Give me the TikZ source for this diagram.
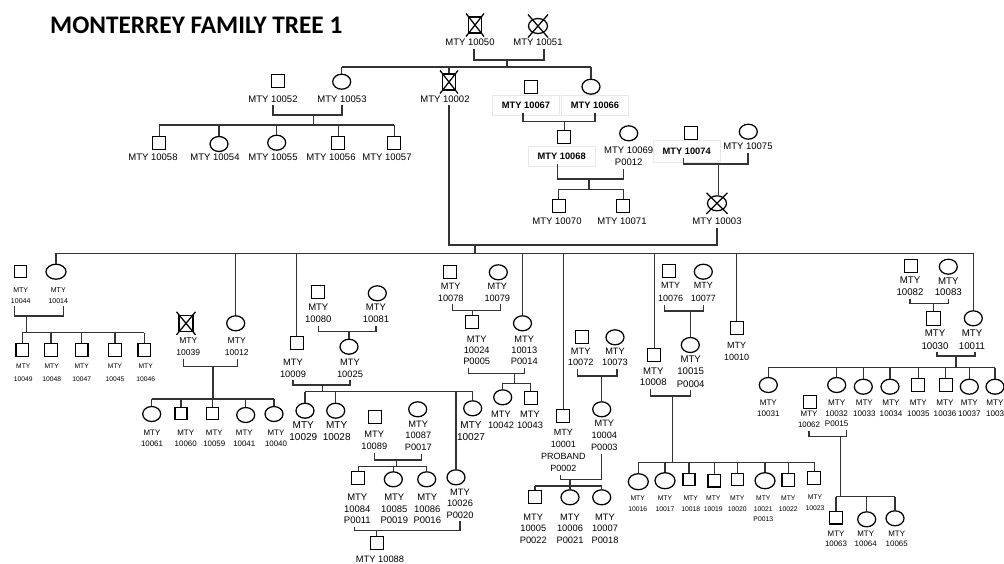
\documentclass[tikz,border=0pt]{standalone}
\usepackage{fontspec}
\setmainfont{Liberation Sans}
\newfontfamily\titlefont{Carlito}
\usetikzlibrary{shapes.geometric}
\newcommand\fs[2]{\fontsize{#1}{#2}\selectfont}
\newcommand\deadmark[3]{\draw[sym] ([shift={(-#2pt,-#3pt)}]#1.center) -- ([shift={(#2pt,#3pt)}]#1.center) ([shift={(-#2pt,#3pt)}]#1.center) -- ([shift={(#2pt,-#3pt)}]#1.center);}
\tikzset{
  sym/.style={draw=black, line width=1.25pt},
  sq/.style={sym, rectangle, minimum size=13pt, inner sep=0pt},
  ci/.style={sym, ellipse, minimum width=18pt, minimum height=15pt, inner sep=0pt},
  ln/.style={draw=black!80, line width=1.1pt},
  lb/.style={anchor=north, inner sep=0pt, outer ysep=3pt, yshift=3pt, align=center, text=black},
  bx/.style={draw=black!9, line width=0.7pt, minimum width=67pt, minimum height=20pt, inner sep=0pt, text=black, font=\fs{9.3}{11}\bfseries},
  fA/.style={font=\fs{9.5}{11.6}},
}
\begin{document}
\begin{tikzpicture}[x=1pt,y=-1pt]
\clip (0,0) rectangle (1004,563);
\fill[white] (0,0) rectangle (1004,563);
\node[anchor=base west, inner sep=0pt, font=\titlefont\bfseries\fontsize{25.3}{30}\selectfont] (title) at (50,33.3) {MONTERREY FAMILY TREE 1};

% ---------- generation 1 ----------
\node[sq, minimum height=16pt] (n50) at (475,25) {};
\node[ci, minimum width=19pt] (n51) at (538,26) {};
\deadmark{n50}{9}{11.5}
\deadmark{n51}{10}{11.5}
\node[lb,fA] (l50) at (470,39.3) {MTY 10050};
\node[lb,fA] (l51) at (538,39.3) {MTY 10051};

% ---------- generation 2 ----------
\node[sq] (n52) at (278.3,80.7) {};
\node[ci] (n53) at (341.7,81.7) {};
\node[sq, minimum height=16pt] (n02) at (449,82) {};
\deadmark{n02}{9}{11.5}
\node[sq] (n67) at (531,86.7) {};
\node[ci] (n66) at (591,86.7) {};
\node[lb,fA] (l52) at (273,95.6) {MTY 10052};
\node[lb,fA] (l53) at (342,95.6) {MTY 10053};
\node[lb,fA] (l02) at (445,95.6) {MTY 10002};
\node[bx] (l67) at (526,105) {MTY 10067};
\node[bx] (l66) at (595,105) {MTY 10066};

\node[sq] (n58) at (159.3,142.7) {};
\node[ci] (n54) at (219,144) {};
\node[ci] (n55) at (276.7,142.7) {};
\node[sq] (n56) at (338.3,142.7) {};
\node[sq] (n57) at (394.3,142.7) {};
\node[lb,fA] (l58) at (153,154.3) {MTY 10058};
\node[lb,fA] (l54) at (215,154.3) {MTY 10054};
\node[lb,fA] (l55) at (273,154.3) {MTY 10055};
\node[lb,fA] (l56) at (331,154.3) {MTY 10056};
\node[lb,fA] (l57) at (387,154.3) {MTY 10057};

\node[sq] (n68) at (564.3,137.3) {};
\node[ci] (n69) at (628.7,133.3) {};
\node[bx] (l68) at (561.7,156) {MTY 10068};
\node[lb,fA] (l69) at (628.7,147.3) {MTY 10069\\P0012};
\node[sq] (n70) at (558.7,205.7) {};
\node[sq] (n71) at (623.3,205.7) {};
\node[lb,fA] (l70) at (557,218.3) {MTY 10070};
\node[lb,fA] (l71) at (622,218.3) {MTY 10071};

\node[sq] (n74) at (690.7,132.7) {};
\node[ci] (n75) at (748.3,131.7) {};
\node[bx, minimum height=22pt] (l74) at (686.7,151.5) {MTY 10074};
\node[lb,fA] (l75) at (748,143.3) {MTY 10075};
\node[ci, minimum width=19pt] (n03) at (717,203.3) {};
\deadmark{n03}{10.5}{10.5}
\node[lb,fA] (l03) at (717,218.3) {MTY 10003};

% ---------- generation 3 and below ----------
% 10044 + 10014
\node[sq, minimum size=12pt] (n44) at (20.7,271.7) {};
\node[ci, minimum width=20pt] (n14) at (56,271.7) {};
\node[lb, font=\fs{7}{11}] (l44) at (20.7,287.5) {MTY\\10044};
\node[lb, font=\fs{7}{11}] (l14) at (58.3,287.5) {MTY\\10014};
\foreach \nd/\xx in {n49/22.3,n48/51,n47/81.7,n45/115,n46/144.3}
  \node[sq, minimum size=12.5pt] (\nd) at (\xx,350) {};
\foreach \nd/\xx/\tt in {l49/23.3/10049,l48/51.7/10048,l47/81.7/10047,l45/115/10045,l46/145.7/10046}
  \node[lb, font=\fs{6.7}{12.5}] (\nd) at (\xx,364.3) {MTY\\\tt};

% 10039 + 10012
\node[sq, minimum width=14pt, minimum height=16pt] (n39) at (186,323.3) {};
\deadmark{n39}{9.5}{11.5}
\node[ci] (n12) at (235.7,323.3) {};
\node[lb, font=\fs{8.5}{12}] (l39) at (188.3,337.6) {MTY\\10039};
\node[lb, font=\fs{8.5}{12}] (l12) at (236.7,337.6) {MTY\\10012};
\node[ci] (n61) at (151.7,414) {};
\node[sq, minimum size=12pt] (n60) at (181,413.3) {};
\node[sq, minimum size=12pt] (n59) at (212.3,413.3) {};
\node[ci] (n41) at (245.7,415) {};
\node[ci] (n40) at (274,414) {};
\foreach \nd/\xx/\tt in {l61/152/10061,l60/185.7/10060,l59/214.3/10059,l41/244.3/10041,l40/276/10040}
  \node[lb, font=\fs{7.9}{10.7}] (\nd) at (\xx,429.9) {MTY\\\tt};

% 10080 + 10081 -> 10025 ; 10009 + 10025
\node[sq] (n80) at (318.3,292.3) {};
\node[ci] (n81) at (377.3,293.3) {};
\node[lb, font=\fs{9.5}{11.7}] (l80) at (318.3,304.3) {MTY\\10080};
\node[lb, font=\fs{9.5}{11.7}] (l81) at (376,304.3) {MTY\\10081};
\node[sq] (n09) at (296.7,342.7) {};
\node[ci] (n25) at (349,346.7) {};
\node[lb, font=\fs{9.3}{11.3}] (l09) at (293,359.4) {MTY\\10009};
\node[lb, font=\fs{9.3}{11.3}] (l25) at (350,359.4) {MTY\\10025};
\node[ci] (n29) at (305,410.7) {};
\node[ci] (n28) at (335.7,410.7) {};
\node[ci] (n27) at (472.7,408.3) {};
\node[ci] (n26) at (456,477.3) {};
\node[lb, font=\fs{10}{12.3}] (l29) at (303.3,421.4) {MTY\\10029};
\node[lb, font=\fs{10}{12.3}] (l28) at (336.7,421.4) {MTY\\10028};
\node[lb, font=\fs{10}{12.3}] (l27) at (471,421.4) {MTY\\10027};
\node[lb, font=\fs{9.3}{11.3}] (l26) at (460,489) {MTY\\10026\\P0020};

% 10089 + 10087
\node[sq] (n89) at (375,417.3) {};
\node[ci] (n87) at (417.7,409.3) {};
\node[lb, font=\fs{9.3}{12.5}] (l89) at (374.3,430.7) {MTY\\10089};
\node[lb, font=\fs{9.3}{11.7}] (l87) at (418.3,420.7) {MTY\\10087\\P0017};
\node[sq] (n84) at (358.3,478.3) {};
\node[ci] (n85) at (393.3,479.3) {};
\node[ci] (n86) at (426.7,479.3) {};
\node[lb, font=\fs{9.5}{11.5}] (l84) at (357.3,494.3) {MTY\\10084\\P0011};
\node[lb, font=\fs{9.5}{11.5}] (l85) at (394.3,494.3) {MTY\\10085\\P0019};
\node[lb, font=\fs{9.5}{11.5}] (l86) at (427.3,494.3) {MTY\\10086\\P0016};
\node[sq] (n88) at (377.3,543.3) {};
\node[lb, font=\fs{9.3}{11}] (l88) at (380,556) {MTY 10088};

% 10078 + 10079 -> 10024 ; 10024 + 10013
\node[sq] (n78) at (450,271.7) {};
\node[ci] (n79) at (498.3,272.3) {};
\node[lb, font=\fs{9.2}{12.3}] (l78) at (450.7,282.7) {MTY\\10078};
\node[lb, font=\fs{9.2}{12.3}] (l79) at (497.3,282.7) {MTY\\10079};
\node[sq] (n24) at (472.3,321.7) {};
\node[ci] (n13) at (522.5,323.3) {};
\node[lb, font=\fs{9.3}{11.3}] (l24) at (476.7,335.7) {MTY\\10024\\P0005};
\node[lb, font=\fs{9.3}{11.3}] (l13) at (524.3,335.7) {MTY\\10013\\P0014};
\node[ci] (n42) at (502.7,397.3) {};
\node[sq] (n43) at (530.7,398.3) {};
\node[lb, font=\fs{9.3}{11.4}] (l42) at (501,411) {MTY\\10042};
\node[lb, font=\fs{9.3}{11.4}] (l43) at (530,411) {MTY\\10043};

% 10072 + 10073 -> 10004 ; 10001 + 10004
\node[sq] (n72) at (581.7,336.7) {};
\node[ci] (n73) at (615,337.3) {};
\node[lb, font=\fs{9.2}{11.7}] (l72) at (580.7,347.7) {MTY\\10072};
\node[lb, font=\fs{9.2}{11.7}] (l73) at (615,347.7) {MTY\\10073};
\node[ci] (n04) at (601.7,409.3) {};
\node[sq] (n01) at (563.3,416) {};
\node[lb, font=\fs{9.2}{12.2}] (l04) at (604.3,420) {MTY\\10004\\P0003};
\node[lb, font=\fs{9}{12}] (l01) at (563.3,429.5) {MTY\\10001\\PROBAND\\P0002};
\node[sq] (n05) at (535,497.3) {};
\node[ci] (n06) at (570,497.3) {};
\node[ci] (n07) at (601.7,497.3) {};
\node[lb, font=\fs{9.3}{11.4}] (l05) at (533.3,514) {MTY\\10005\\P0022};
\node[lb, font=\fs{9.3}{11.4}] (l06) at (570,514) {MTY\\10006\\P0021};
\node[lb, font=\fs{9.3}{11.4}] (l07) at (605,514) {MTY\\10007\\P0018};

% 10076 + 10077 -> 10015 ; 10008 + 10015
\node[sq] (n76) at (669.3,271) {};
\node[ci] (n77) at (703.3,271.7) {};
\node[lb, font=\fs{9}{13}] (l76) at (670.7,282.8) {MTY\\10076};
\node[lb, font=\fs{9}{13}] (l77) at (703.3,282.8) {MTY\\10077};
\node[ci] (n15) at (690.3,345) {};
\node[sq] (n08) at (654.3,355) {};
\node[lb, font=\fs{9.6}{12.5}] (l15) at (690.7,355.5) {MTY\\10015\\P0004};
\node[lb, font=\fs{9.6}{11.7}] (l08) at (653.3,367.5) {MTY\\10008};
\node[ci, minimum width=20pt, minimum height=16pt] (n16) at (638.3,481.7) {};
\node[ci, minimum width=20pt, minimum height=16pt] (n17) at (665,480.7) {};
\node[sq, minimum size=12pt] (n18) at (689,479.3) {};
\node[sq, minimum size=12.5pt] (n19) at (714.3,480.7) {};
\node[sq, minimum size=12pt] (n20) at (737.7,479.3) {};
\node[ci, minimum width=20pt, minimum height=16pt] (n21) at (765,480.7) {};
\node[sq, minimum size=12.5pt] (n22) at (788.3,480) {};
\node[sq] (n23) at (814.3,477.7) {};
\foreach \nd/\xx/\tt in {l16/637.7/10016,l17/665/10017,l18/690.7/10018,l19/713.3/10019,l20/737.3/10020,l22/788.3/10022}
  \node[lb, font=\fs{6.8}{10.7}] (\nd) at (\xx,495.9) {MTY\\\tt};
\node[lb, font=\fs{6.8}{10.7}] (l21) at (763.3,495.9) {MTY\\10021\\P0013};
\node[lb, font=\fs{6.8}{10.7}] (l23) at (815,494.9) {MTY\\10023};

% 10010
\node[sq] (n10) at (736.7,328.3) {};
\node[lb, font=\fs{9}{11.6}] (l10) at (736.7,342.5) {MTY\\10010};

% 10082 + 10083 -> 10030 ; 10030 + 10011
\node[sq] (n82) at (911,265.7) {};
\node[ci] (n83) at (948.3,266.7) {};
\node[lb, font=\fs{9.7}{12.3}] (l82) at (910,276.5) {MTY\\10082};
\node[lb, font=\fs{9.7}{11}] (l83) at (948.3,278.2) {MTY\\10083};
\node[sq, minimum size=14pt] (n30) at (933.3,318.3) {};
\node[ci] (n11) at (973.3,318.3) {};
\node[lb, font=\fs{9.7}{12.7}] (l30) at (935,329.8) {MTY\\10030};
\node[lb, font=\fs{9.7}{12.7}] (l11) at (972,329.8) {MTY\\10011};
\node[ci] (n31) at (768.3,385) {};
\node[ci] (n32) at (836.7,385) {};
\node[ci] (n33) at (863.3,386.7) {};
\node[ci] (n34) at (890,386.7) {};
\node[sq] (n35) at (918.3,385) {};
\node[sq] (n36) at (945.7,385) {};
\node[ci] (n37) at (969.3,386.7) {};
\node[ci] (n38) at (995,386.7) {};
\foreach \nd/\xx/\tt in {l31/768.3/10031,l33/864.3/10033,l34/891/10034,l35/918.3/10035,l36/945/10036,l37/969.3/10037,l38/995/1003}
  \node[lb, font=\fs{8.1}{11}] (\nd) at (\xx,400.4) {MTY\\\tt};
\node[lb, font=\fs{8.1}{10.4}] (l32) at (836.7,400.4) {MTY\\10032\\P0015};
\node[sq] (n62) at (810,401.7) {};
\node[lb, font=\fs{7.9}{10.7}] (l62) at (809,411.5) {MTY\\10062};
\node[sq, minimum size=12.5pt] (n63) at (836,517.7) {};
\node[ci] (n64) at (866.7,519.3) {};
\node[ci] (n65) at (895,518.3) {};
\foreach \nd/\xx/\tt in {l63/836/10063,l64/865.7/10064,l65/896.7/10065}
  \node[lb, font=\fs{7.9}{10.3}] (\nd) at (\xx,531.2) {MTY\\\tt};

% ================= connectors =================
% 10050 + 10051
\coordinate (m0) at (507,60);
\coordinate (s0) at (507,67);
\draw[ln] ([xshift=4pt]l50.south) |- (m0) -| ([xshift=6pt]l51.south);
\draw[ln] (m0) -- (s0);
\draw[ln] (n53 |- s0) -- (n66 |- s0);
\foreach \nd in {n53,n02,n66} \draw[ln] (\nd |- s0) -- (\nd.north);

% 10052 + 10053
\coordinate (m1) at (313.3,115);
\coordinate (s1) at (313.3,125);
\draw[ln] (l52.south) |- (m1) -| (l53.south);
\draw[ln] (m1) -- (s1);
\draw[ln] (n58 |- s1) -- (n57 |- s1);
\foreach \nd in {n58,n54,n55,n56,n57} \draw[ln] (\nd |- s1) -- (\nd.north);

% 10067 + 10066
\coordinate (m2) at (564.3,121.7);
\draw[ln] ([xshift=-3pt,yshift=2pt]l67.south) |- (m2) -| ([yshift=2pt]l66.south);
\draw[ln] (m2) -- (m2 |- n68.north);

% 10068 + 10069
\coordinate (m3) at (589,179);
\coordinate (s3) at (589,189.3);
\draw[ln] ([xshift=-4pt,yshift=2pt]l68.south) |- (m3) -| ([xshift=-5pt]l69.south);
\draw[ln] (m3) -- (s3);
\draw[ln] (n70 |- s3) -- (n71 |- s3);
\foreach \nd in {n70,n71} \draw[ln] (\nd |- s3) -- (\nd.north);

% 10074 + 10075
\coordinate (m4) at (718.3,164);
\draw[ln] ([xshift=-3pt,yshift=5pt]l74.south) |- (m4) -| (l75.south);
\draw[ln] (m4) -- (m4 |- n03.north);

% 10002 + 10003
\coordinate (m5) at (475,245);
\coordinate (s5) at (475,253.3);
\draw[ln] (n02 |- l02.south) |- (m5) -| (l03.south);
\draw[ln] (m5) -- (s5);
\draw[ln] (n14 |- s5) -- (n11 |- s5);
\foreach \nd in {n14,n12,n09,n13,n01,n08,n10,n11} \draw[ln] (\nd |- s5) -- (\nd.north);

% 10044 + 10014
\coordinate (m6) at (26.7,316);
\coordinate (s6) at (26.7,332.7);
\draw[ln] ([xshift=-6pt]l44.south) |- (m6) -| ([xshift=5pt]l14.south);
\draw[ln] (m6) -- (s6);
\draw[ln] (n49 |- s6) -- (n46 |- s6);
\foreach \nd in {n49,n48,n47,n45,n46} \draw[ln] (\nd |- s6) -- (\nd.north);

% 10039 + 10012
\coordinate (m7) at (213,366.7);
\coordinate (s7) at (213,399);
\draw[ln] ([xshift=-5pt]l39.south) |- (m7) -| ([xshift=1pt]l12.south);
\draw[ln] (m7) -- (s7);
\draw[ln] (n61 |- s7) -- (n40 |- s7);
\foreach \nd in {n61,n60,n59,n41,n40} \draw[ln] (\nd |- s7) -- (\nd.north);

% 10080 + 10081
\coordinate (m8) at (349,331.7);
\draw[ln] (l80.south) |- (m8) -| (l81.south);
\draw[ln] (m8) -- (m8 |- n25.north);

% 10009 + 10025
\coordinate (m9) at (322.7,385);
\coordinate (s9) at (322.7,391.7);
\draw[ln] (l09.south) |- (m9) -| (l25.south);
\draw[ln] (m9) -- (s9);
\draw[ln] (n29 |- s9) -- (n27 |- s9);
\foreach \nd in {n29,n28,n26,n27} \draw[ln] (\nd |- s9) -- (\nd.north);

% 10089 + 10087
\coordinate (m10) at (396.7,460);
\coordinate (s10) at (396.7,466.7);
\draw[ln] (l89.south) |- (m10) -| ([xshift=3pt]l87.south);
\draw[ln] (m10) -- (s10);
\draw[ln] (n84 |- s10) -- (n86 |- s10);
\foreach \nd in {n84,n85,n86} \draw[ln] (\nd |- s10) -- (\nd.north);

% 10084 + 10026
\coordinate (m11) at (376.7,530.7);
\draw[ln] ([xshift=-3pt]l84.south) |- (m11) -| (l26.south);
\draw[ln] (m11) -- (m11 |- n88.north);

% 10078 + 10079
\coordinate (m12) at (472.3,310.7);
\draw[ln] ([xshift=2pt]l78.south) |- (m12) -| ([xshift=3pt]l79.south);
\draw[ln] (m12) -- (m12 |- n24.north);

% 10024 + 10013
\coordinate (m13) at (514.3,373.3);
\coordinate (s13) at (514.3,383.3);
\draw[ln] ([xshift=-8pt]l24.south) |- (m13) -| (l13.south);
\draw[ln] (m13) -- (s13);
\draw[ln] (n42 |- s13) -- (n43 |- s13);
\foreach \nd in {n42,n43} \draw[ln] (\nd |- s13) -- (\nd.north);

% 10072 + 10073
\coordinate (m14) at (601.7,376);
\draw[ln] ([xshift=-3pt]l72.south) |- (m14) -| ([xshift=2pt]l73.south);
\draw[ln] (m14) -- (m14 |- n04.north);

% 10001 + 10004
\coordinate (m15) at (570,479.3);
\coordinate (s15) at (570,486);
\draw[ln] ([xshift=-3pt]l01.south) |- (m15) -| ([xshift=-3pt]l04.south);
\draw[ln] (m15) -- (s15);
\draw[ln] (n05 |- s15) -- (n07 |- s15);
\foreach \nd in {n05,n06,n07} \draw[ln] (\nd |- s15) -- (\nd.north);

% 10076 + 10077
\coordinate (m16) at (690.3,311);
\draw[ln] ([xshift=-6pt]l76.south) |- (m16) -| (l77.south);
\draw[ln] (m16) -- (m16 |- n15.north);

% 10008 + 10015
\coordinate (m17) at (672.7,396);
\coordinate (s17) at (672.7,462.3);
\draw[ln] ([xshift=-3pt]l08.south) |- (m17) -| (l15.south);
\draw[ln] (m17) -- (s17);
\draw[ln] (n16 |- s17) -- (n23 |- s17);
\foreach \nd in {n16,n17,n18,n19,n20,n21,n22,n23} \draw[ln] (\nd |- s17) -- (\nd.north);

% 10082 + 10083
\coordinate (m18) at (933.3,303.3);
\draw[ln] (l82.south) |- (m18) -| (l83.south);
\draw[ln] (m18) -- (m18 |- n30.north);

% 10030 + 10011
\coordinate (m19) at (956,356);
\coordinate (s19) at (956,367.7);
\draw[ln] ([xshift=2pt]l30.south) |- (m19) -| ([xshift=3pt]l11.south);
\draw[ln] (m19) -- (s19);
\draw[ln] (n31 |- s19) -- (n38 |- s19);
\foreach \nd in {n31,n32,n33,n34,n35,n36,n37,n38} \draw[ln] (\nd |- s19) -- (\nd.north);

% 10062 + 10032
\coordinate (m20) at (840.7,436.7);
\coordinate (s20) at (840.7,496.7);
\draw[ln] (l62.south) |- (m20) -| ([xshift=10pt]l32.south);
\draw[ln] (m20) -- (s20);
\draw[ln] (n63 |- s20) -- (n65 |- s20);
\foreach \nd in {n63,n64,n65} \draw[ln] (\nd |- s20) -- (\nd.north);
\end{tikzpicture}
\end{document}
